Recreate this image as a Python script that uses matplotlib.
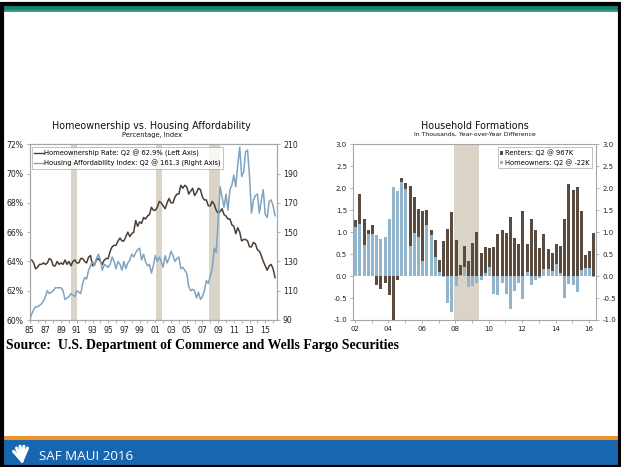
import numpy as np
import matplotlib
matplotlib.use("Agg")
from matplotlib import pyplot as plt
from matplotlib.patches import Rectangle
from matplotlib.lines import Line2D

W, H = 621, 467

# ------------------------------------------------------------------------------------------------------------------
#  data: homeownership rate (%) and housing affordability index, quarterly 1985Q1 - 2016Q2
# ------------------------------------------------------------------------------------------------------------------
ho_rate = [64.1, 64.1, 63.9, 63.5, 63.6, 63.8, 63.8, 63.9, 63.8, 63.9, 64.2, 64.1,
           63.7, 63.7, 64.0, 63.8, 63.9, 63.8, 64.1, 63.8, 64.0, 63.7, 64.0, 64.1,
           63.9, 63.9, 64.2, 64.2, 64.0, 63.9, 64.3, 64.4, 63.7, 63.8, 64.1, 64.2,
           64.0, 63.8, 64.1, 64.2, 64.2, 64.7, 65.0, 65.1, 65.1, 65.4, 65.6, 65.4,
           65.4, 65.7, 66.0, 65.7, 65.9, 66.0, 66.8, 66.4, 66.7, 66.6, 67.0, 66.9,
           67.1, 67.2, 67.7, 67.5, 67.5, 67.7, 68.1, 68.0, 67.8, 67.6, 68.0, 68.3,
           68.0, 68.0, 68.4, 68.6, 68.6, 69.2, 69.0, 69.2, 69.1, 68.6, 68.8, 69.0,
           68.5, 68.7, 69.0, 68.9, 68.4, 68.2, 68.2, 67.8, 67.8, 68.1, 67.9, 67.5,
           67.3, 67.4, 67.6, 67.2, 67.1, 66.9, 66.9, 66.5, 66.4, 65.9, 66.3, 66.0,
           65.4, 65.5, 65.5, 65.4, 65.0, 65.0, 65.3, 65.2, 64.8, 64.7, 64.4, 64.0,
           63.7, 63.4, 63.7, 63.8, 63.5, 62.9]

afford_idx = [90, 94, 97, 99, 99, 100, 101, 103, 106, 110, 108, 109,
              110, 112, 112, 112, 112, 110, 104, 105, 106, 108, 107, 106,
              110, 109, 108, 115, 119, 118, 124, 127, 130, 127, 132, 135,
              131, 124, 128, 127, 126, 128, 133, 130, 125, 130, 128, 124,
              130, 125, 129, 131, 135, 133, 136, 138, 139, 131, 135, 130,
              127, 128, 122, 127, 134, 130, 133, 130, 126, 134, 129, 132,
              137, 134, 130, 132, 133, 125, 126, 124, 122, 113, 110, 111,
              110, 105, 109, 104, 106, 110, 117, 115, 120, 125, 139, 136,
              157, 181, 174, 167, 176, 165, 179, 182, 189, 181, 196, 208,
              188, 191, 205, 206, 188, 163, 172, 175, 176, 163, 172, 179,
              162, 160, 171, 172, 168, 161.3]

recessions_left = [(1990.3, 1991.05), (2001.1, 2001.8), (2007.85, 2009.3)]

# household formations, year-over-year difference (millions), quarterly 2002Q1 - 2016Q2
owners = [1.11, 1.18, 0.71, 0.96, 0.96, 0.93, 0.84, 0.90, 1.29, 2.02, 1.94, 2.14,
          1.99, 0.69, 0.97, 0.88, 0.35, 1.17, 0.93, 0.43, 0.10, -0.01, -0.61, -0.82,
          -0.22, 0.02, 0.20, -0.25, -0.23, -0.15, -0.09, 0.07, 0.20, -0.40, -0.42, -0.15,
          -0.41, -0.76, -0.33, -0.15, -0.53, 0.10, -0.20, -0.10, -0.05, 0.17, 0.17, 0.12,
          0.27, 0.08, -0.49, -0.18, -0.20, -0.37, 0.14, 0.19, 0.19, -0.02]
renters = [0.17, 0.69, 0.59, 0.10, 0.20, -0.21, -0.30, -0.15, -0.44, -1.02, -0.08, 0.09,
           0.14, 1.35, 0.84, 0.65, 1.14, 0.33, 0.12, 0.38, 0.26, 0.80, 1.08, 1.46,
           0.83, 0.24, 0.49, 0.35, 0.75, 1.00, 0.52, 0.59, 0.43, 0.67, 0.96, 1.06,
           0.98, 1.35, 0.86, 0.72, 1.48, 0.64, 1.30, 1.05, 0.63, 0.78, 0.44, 0.41,
           0.45, 0.61, 1.30, 2.10, 1.97, 2.03, 1.34, 0.30, 0.38, 0.97]
recession_right = (2007.95, 2009.45)

# colours
brown = "#4d3e33"
steel = "#7fa3c0"
bar_brown = "#5b4b3f"
bar_blue = "#93b5cc"
shade = "#d9d4c7"
spine_col = "#a6a6a6"
txt = "#222222"


def fx(x):
    return x / W


def fy(y):
    return 1 - y / H


fig = plt.figure(figsize=(W / 100, H / 100), dpi=100)
plt.rcParams["font.family"] = ["DejaVu Sans"]

# ------------------------------------------------------------------------------------------------------------------
#  slide decoration
# ------------------------------------------------------------------------------------------------------------------
bg = fig.add_axes([0, 0, 1, 1], zorder=-5)
bg.set_xlim(0, W)
bg.set_ylim(H, 0)
bg.axis("off")
bg.add_patch(Rectangle((0, 5), W, 6, color="#11866f", lw=0))
bg.add_patch(Rectangle((0, 10), W, 1.5, color="#3a9c86", lw=0))
bg.add_patch(Rectangle((0, 436), W, 4, color="#f0922b", lw=0))
bg.add_patch(Rectangle((0, 440), W, 27, color="#1866b0", lw=0))
bg.add_patch(Rectangle((1.5, 4), W - 3, H - 4, fill=False, ec="black", lw=3))
# little fan logo
for ang in [60, 80, 100, 120, 140]:
    a = np.deg2rad(ang)
    bg.plot([22, 22 + 11 * np.cos(a)], [461, 461 - 15 * np.sin(a)], color="white", lw=2.2,
            solid_capstyle="round")
bg.text(39, 456, "SAF MAUI 2016", color="white", fontsize=9.6, family="Open Sans", va="center")

fig.text(fx(6), fy(346), "Source:  U.S. Department of Commerce and Wells Fargo Securities",
         family="Liberation Serif", weight="bold", fontsize=9.9, va="center", color="black")

# ------------------------------------------------------------------------------------------------------------------
#  left chart
# ------------------------------------------------------------------------------------------------------------------
t_left = 1985 + np.arange(len(ho_rate)) / 4
ax1 = fig.add_axes([fx(29.7), fy(320), fx(276.7 - 29.7), (320 - 144.3) / H])
for r0, r1 in recessions_left:
    ax1.axvspan(r0, r1, color=shade, lw=0, zorder=0)
ax1.plot(t_left, ho_rate, color=brown, lw=1.1, zorder=3)
ax1.set_xlim(1985, 2016.46)
ax1.set_ylim(60, 72)
ax1.set_yticks(np.arange(60, 73, 2))
ax1.set_yticklabels([f"{v}%" for v in range(60, 73, 2)])
ax1.set_xticks(np.arange(1985, 2017))
ax1.set_xticklabels([f"{y % 100:02d}" if y % 2 == 1 else "" for y in range(1985, 2017)])

ax1b = ax1.twinx()
ax1b.plot(t_left, afford_idx, color=steel, lw=1.1, zorder=3)
ax1b.set_ylim(90, 210)
ax1b.set_yticks(np.arange(90, 211, 20))

for a in (ax1, ax1b):
    for s in a.spines.values():
        s.set_color(spine_col)
        s.set_linewidth(0.8)
    a.tick_params(labelsize=5.6, colors=txt, length=2.5, width=0.6, pad=2)
    a.tick_params(color=spine_col)

handles = [Line2D([], [], color=brown, lw=1.0), Line2D([], [], color=steel, lw=1.0)]
leg = ax1b.legend(handles, ["Homeownership Rate: Q2 @ 62.9% (Left Axis)",
                            "Housing Affordability Index: Q2 @ 161.3 (Right Axis)"],
                  loc="upper left", bbox_to_anchor=(0.008, 0.985), fontsize=4.9, frameon=True,
                  fancybox=False, handlelength=1.4, handletextpad=0.1, borderpad=0.35,
                  labelspacing=0.45, borderaxespad=0.0)
leg.get_frame().set_edgecolor(spine_col)
leg.get_frame().set_linewidth(0.6)

fig.text(fx(151.5), fy(126), "Homeownership vs. Housing Affordability", ha="center", va="center",
         fontsize=6.9, color="#111111")
fig.text(fx(151.5), fy(135.5), "Percentage, Index", ha="center", va="center", fontsize=4.8,
         color="#111111")

# ------------------------------------------------------------------------------------------------------------------
#  right chart
# ------------------------------------------------------------------------------------------------------------------
own = np.array(owners)
ren = np.array(renters)
t_right = 2002.05 + np.arange(len(own)) / 4
ren_bottom = np.where(ren >= 0, np.maximum(own, 0), np.minimum(own, 0))

ax2 = fig.add_axes([fx(353.3), fy(320), fx(596 - 353.3), (320 - 144.3) / H])
ax2.axvspan(*recession_right, color=shade, lw=0, zorder=0)
ax2.bar(t_right, own, width=0.18, color=bar_blue, lw=0, zorder=2, label="Homeowners: Q2 @ -22K")
ax2.bar(t_right, ren, bottom=ren_bottom, width=0.18, color=bar_brown, lw=0, zorder=2,
        label="Renters: Q2 @ 967K")
ax2.set_xlim(2001.9, 2016.42)
ax2.set_ylim(-1, 3)
ax2.set_yticks(np.arange(-1, 3.01, 0.5))
ax2.set_yticklabels([f"{v:.1f}" for v in np.arange(-1, 3.01, 0.5)])
ax2.set_xticks(np.arange(2002, 2017))
ax2.set_xticklabels([f"{y % 100:02d}" if y % 2 == 0 else "" for y in range(2002, 2017)])
ax2.tick_params(right=True, labelright=True, labelsize=5.0, colors=txt, length=2.5, width=0.6, pad=2)
ax2.tick_params(color=spine_col)
for s in ax2.spines.values():
    s.set_color(spine_col)
    s.set_linewidth(0.8)

h, l = ax2.get_legend_handles_labels()
leg2 = ax2.legend(h[::-1], l[::-1], loc="upper right", bbox_to_anchor=(0.985, 0.985), fontsize=4.9,
                  fancybox=False, handlelength=0.5, handleheight=0.5, handletextpad=0.3,
                  borderpad=0.35, labelspacing=0.45, borderaxespad=0.0)
leg2.get_frame().set_edgecolor(spine_col)
leg2.get_frame().set_linewidth(0.6)

fig.text(fx(475), fy(126), "Household Formations", ha="center", va="center", fontsize=6.9,
         color="#111111")
fig.text(fx(475), fy(134.5), "In Thousands, Year-over-Year Difference", ha="center", va="center",
         fontsize=4.4, color="#111111")

fig.savefig("out.png", dpi=100)
